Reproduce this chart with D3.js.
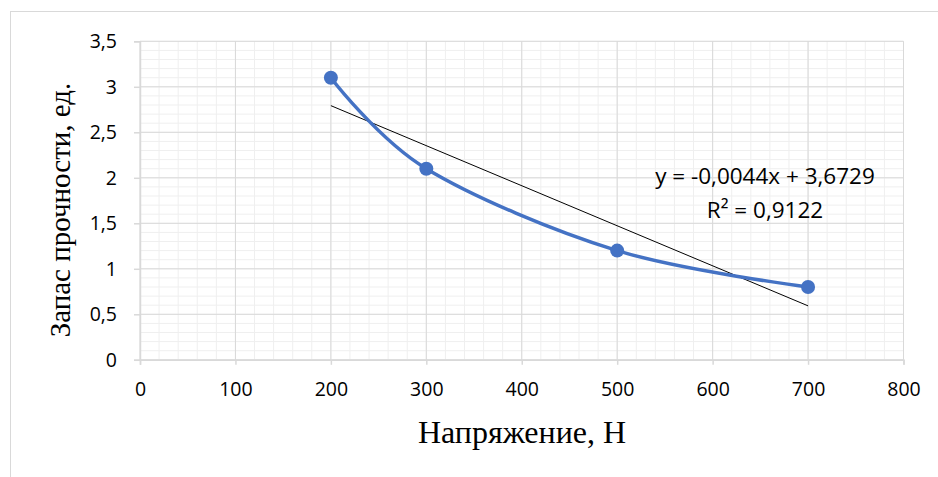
<!DOCTYPE html>
<html><head><meta charset="utf-8">
<script src="https://cdn.jsdelivr.net/npm/d3@7"></script>
<style>body{margin:0;background:#fff}</style>
</head><body>
<svg id="c" width="938" height="477"></svg>
<script>
const xValues = [200, 300, 500, 700];
const yValues = [3.1, 2.1, 1.2, 0.8];
const xTicks = [0, 100, 200, 300, 400, 500, 600, 700, 800];
const yTicks = [0, 0.5, 1, 1.5, 2, 2.5, 3, 3.5];
const trendSlope = -0.0044, trendIntercept = 3.6729;
const eqText = "y = -0,0044x + 3,6729";
const r2Text = "R² = 0,9122";
const xTitle = "Напряжение, Н";
const yTitle = "Запас прочности, ед.";

const svg = d3.select("#c");
svg.append("rect").attr("x",10.5).attr("y",11.5).attr("width",940).attr("height",480)
  .attr("fill","#fff").attr("stroke","#d9d9d9").attr("stroke-width",1);

const x = d3.scaleLinear().domain([0,800]).range([140,903.5]);
const y = d3.scaleLinear().domain([0,3.5]).range([359.8,41.3]);
const fmt = v => String(v).replace(".", ",");

const g = svg.append("g");
const xMinor = d3.range(0, 801, 20), yMinor = d3.range(0, 3.501, 0.1);
g.selectAll(".xm").data(xMinor).join("line")
  .attr("x1",d=>x(d)).attr("x2",d=>x(d)).attr("y1",y(0)).attr("y2",y(3.5))
  .attr("stroke","#efefef").attr("stroke-width",1);
g.selectAll(".ym").data(yMinor).join("line")
  .attr("y1",d=>y(d)).attr("y2",d=>y(d)).attr("x1",x(0)).attr("x2",x(800))
  .attr("stroke","#efefef").attr("stroke-width",1);
g.selectAll(".xM").data(xTicks).join("line")
  .attr("x1",d=>x(d)).attr("x2",d=>x(d)).attr("y1",y(0)).attr("y2",y(3.5))
  .attr("stroke","#d9d9d9").attr("stroke-width",1);
g.selectAll(".yM").data(yTicks).join("line")
  .attr("y1",d=>y(d)).attr("y2",d=>y(d)).attr("x1",x(0)).attr("x2",x(800))
  .attr("stroke","#d9d9d9").attr("stroke-width",1);

const xa = svg.append("g").attr("transform",`translate(0,${y(0)})`)
  .call(d3.axisBottom(x).tickValues(xTicks).tickSize(5).tickPadding(17).tickFormat(fmt));
const ya = svg.append("g").attr("transform",`translate(${x(0)},0)`)
  .call(d3.axisLeft(y).tickValues(yTicks).tickSize(6).tickPadding(17).tickFormat(fmt));
[xa,ya].forEach(a=>{
  a.attr("font-size",null).attr("font-family",null);
  a.select(".domain").attr("stroke","#d9d9d9").attr("stroke-width",1.5);
  a.selectAll(".tick line").attr("stroke","#d9d9d9").attr("stroke-width",1.5);
  a.selectAll("text").style("font-family","'Open Sans', sans-serif").style("font-size","19.5px").attr("fill","#000");
});

svg.append("line")
  .attr("x1",x(200)).attr("y1",y(trendSlope*200+trendIntercept))
  .attr("x2",x(700)).attr("y2",y(trendSlope*700+trendIntercept))
  .attr("stroke","#000").attr("stroke-width",1);

const pts = xValues.map((v,i)=>[v,yValues[i]]);
svg.append("path").datum(pts)
  .attr("d", d3.line().x(d=>x(d[0])).y(d=>y(d[1])).curve(d3.curveCardinal.tension(0)))
  .attr("fill","none").attr("stroke","#4472c4").attr("stroke-width",3.5).attr("stroke-linecap","round");
svg.selectAll(".pt").data(pts).join("circle")
  .attr("cx",d=>x(d[0])).attr("cy",d=>y(d[1])).attr("r",7).attr("fill","#4472c4");

svg.append("text").attr("x",765).attr("y",184).attr("text-anchor","middle")
  .style("font-family","'Open Sans', sans-serif").style("font-size","22.5px").text(eqText);
svg.append("text").attr("x",765).attr("y",218).attr("text-anchor","middle")
  .style("font-family","'Open Sans', sans-serif").style("font-size","22.5px").text(r2Text);

svg.append("text").attr("x",522).attr("y",443).attr("text-anchor","middle")
  .style("font-family","'Liberation Serif', 'Times New Roman', serif").style("font-size","32px").text(xTitle);
svg.append("text").attr("transform","translate(70,210) rotate(-90)").attr("text-anchor","middle")
  .style("font-family","'Liberation Serif', 'Times New Roman', serif").style("font-size","29px").text(yTitle);
</script>
</body></html>
